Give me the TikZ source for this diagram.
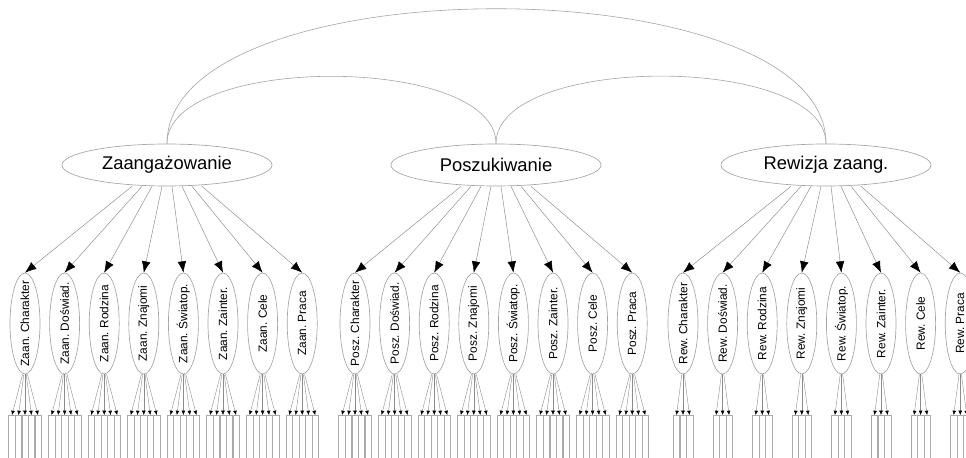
\documentclass[tikz,border=0pt]{standalone}
\usepackage{fontspec}
\setmainfont{Liberation Sans}
\usetikzlibrary{arrows.meta, positioning, calc, shapes.geometric}
\definecolor{edgegray}{RGB}{140,140,140}
\definecolor{linegray}{RGB}{165,165,165}
\definecolor{boxgray}{RGB}{170,170,170}
\newcommand{\indlbl}[1]{\makebox[0pt]{#1}}

\begin{document}
\begin{tikzpicture}[x=0.75pt, y=0.75pt,
  factor/.style={ellipse, draw=linegray, line width=0.5pt, inner sep=0pt,
    minimum width=157.5pt, minimum height=31.5pt, font=\fontsize{13.8}{16}\selectfont},
  ind/.style={ellipse, draw=linegray, line width=0.5pt, inner sep=0pt, rotate=90,
    minimum width=75.75pt, minimum height=22.5pt, font=\fontsize{8.9}{10}\selectfont},
  item/.style={rectangle, draw=boxgray, line width=0.4pt, inner sep=0pt,
    minimum width=4.9pt, minimum height=45pt, anchor=north},
  load/.style={draw=edgegray, line width=0.35pt, -{Latex[black,length=8.5pt,width=6.5pt]}},
  itemload/.style={draw=edgegray, line width=0.3pt, -{Latex[black,length=3.2pt,width=2.8pt]}},
  corr/.style={draw=linegray, line width=0.45pt}]
  \useasboundingbox (0,0) rectangle (966,457);
  \clip (0,0) rectangle (966,457);
  % latent factors
  \node[factor] (zaan) at (167,292) {Zaangażowanie};
  \node[factor] (posz) at (496,292) {Poszukiwanie};
  \node[factor] (rew) at (826,292) {Rewizja zaang.};
  % covariances
  \draw[corr] (zaan.north) to[out=90, in=90, looseness=0.7] (rew.north);
  \draw[corr] (zaan.north) to[out=90, in=90, looseness=0.7] (posz.north);
  \draw[corr] (posz.north) to[out=90, in=90, looseness=0.7] (rew.north);
  % indicators and items
  \foreach \g/\pre/\xs/\nb in {zaan/Zaan./25/5, posz/Posz./355/5, rew/Rew./683/3}{
    \foreach \lbl [count=\i] in {Charakter, Doświad., Rodzina, Znajomi, Światop., Zainter., Cele, Praca}{
      \pgfmathsetmacro{\xc}{\xs+39.6*(\i-1)}
      \node[ind] (\g\i) at (\xc,133.5) {\indlbl{\pre\ \lbl}};
      \draw[load] ($(\g.south)+({(\i-4.5)*10},0)$) -- (\g\i.east);
      \foreach \k in {1,...,\nb}{
        \node[item] (\g\i b\k) at ({\xc+(\k-(\nb+1)/2)*6.5},42) {};
        \draw[itemload] ($(\g\i.west)+({(\k-(\nb+1)/2)*1.2},0)$) -- (\g\i b\k.north);
      }
    }
  }
\end{tikzpicture}
\end{document}
